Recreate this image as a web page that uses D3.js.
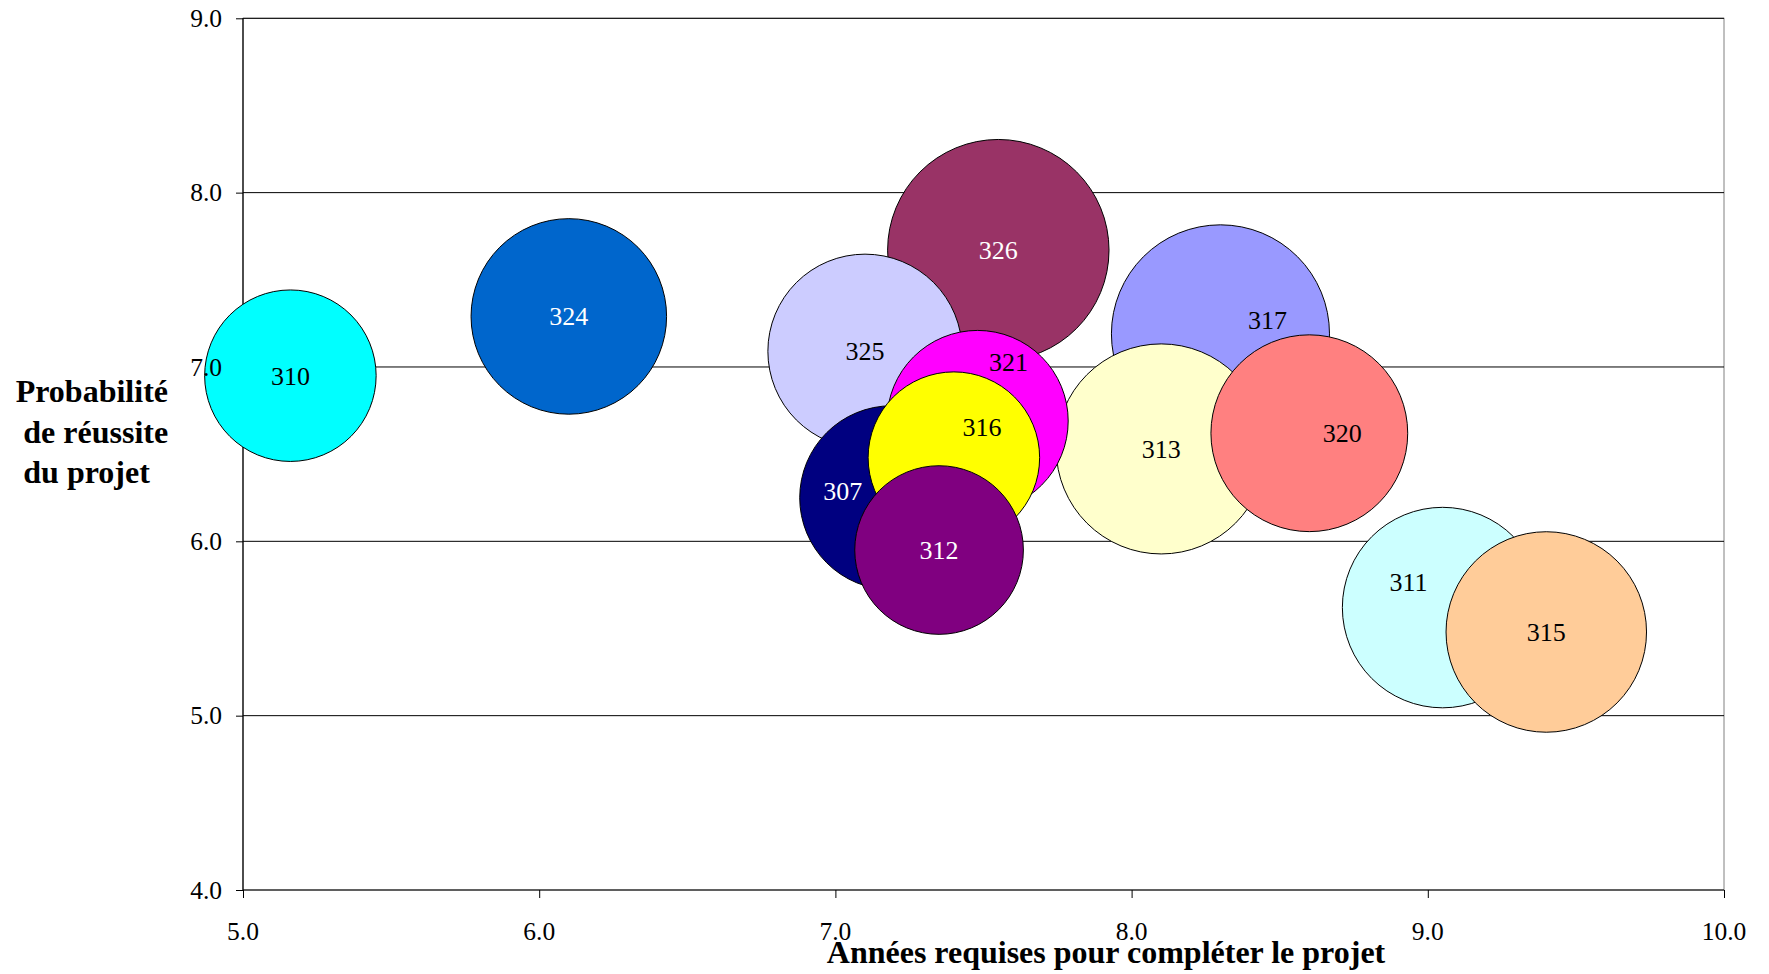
<!DOCTYPE html>
<html lang="fr">
<head>
<meta charset="utf-8">
<title>Projets : probabilité de réussite et durée</title>
<script src="https://cdn.jsdelivr.net/npm/d3@7/dist/d3.min.js"></script>
<style>
  html, body { margin: 0; padding: 0; background: #ffffff; }
  svg { display: block; }
  text { font-family: "Liberation Serif", "Times New Roman", serif; }
</style>
</head>
<body>
<svg id="chart" width="1769" height="974"></svg>
<script>
// Projects: duration (years), probability of success, bubble size
const projects    = ["307", "310", "311", "312", "313", "315", "316", "317", "320", "321", "324", "325", "326"];
const years       = [7.19, 5.16, 9.05, 7.35, 8.10, 9.40, 7.40, 8.30, 8.60, 7.48, 6.10, 7.10, 7.55];
const probability = [6.25, 6.95, 5.62, 5.95, 6.53, 5.48, 6.48, 7.19, 6.62, 6.69, 7.29, 7.09, 7.67];
const bubbleSize  = [69, 60, 82, 58, 90, 82, 60, 97, 79, 67, 78, 77, 100];

// Axis ticks
const xTicks = [5, 6, 7, 8, 9, 10];
const yTicks = [4, 5, 6, 7, 8, 9];

// Bubble fills and label ink
const fills = ["#000080", "#00FFFF", "#CCFFFF", "#800080", "#FFFFCC", "#FFCC99",
               "#FFFF00", "#9999FF", "#FF8080", "#FF00FF", "#0066CC", "#CCCCFF", "#993366"];
const labelInk = ["#ffffff", "#000000", "#000000", "#ffffff", "#000000", "#000000",
                  "#000000", "#000000", "#000000", "#000000", "#ffffff", "#000000", "#ffffff"];
// Hand-placed label nudges (px) so overlapping labels stay readable
const labelNudge = [[-49, -7], [0, 0], [-34, -25], [0, 0], [0, 0], [0, 0],
                    [28, -30], [47, -14], [33, 0], [31, -59], [0, 0], [0, 0], [0, 0]];

const svg = d3.select("#chart");
const margin = { left: 243, right: 45, top: 18.3, bottom: 84 };
const W = +svg.attr("width"), H = +svg.attr("height");
const innerW = W - margin.left - margin.right;
const innerH = H - margin.top - margin.bottom;

const x = d3.scaleLinear().domain([5, 10]).range([margin.left, margin.left + innerW]);
const y = d3.scaleLinear().domain([4, 9]).range([margin.top + innerH, margin.top]);
const r = d3.scaleSqrt().domain([0, d3.max(bubbleSize)]).range([0, innerH * 0.127]);

// Plot area frame
svg.append("rect")
  .attr("x", x(5)).attr("y", y(9))
  .attr("width", x(10) - x(5)).attr("height", y(4) - y(9))
  .attr("fill", "#ffffff").attr("stroke", "#808080").attr("stroke-width", 1);

// Horizontal gridlines
svg.append("g")
  .selectAll("line")
  .data(yTicks.filter(t => t > 4))
  .join("line")
  .attr("x1", x(5)).attr("x2", x(10))
  .attr("y1", d => y(d)).attr("y2", d => y(d))
  .attr("stroke", "#000000").attr("stroke-width", 1);

// Axis lines and tick marks
const yAxis = d3.axisLeft(y).tickValues(yTicks).tickSize(7).tickFormat("");
const xAxis = d3.axisBottom(x).tickValues(xTicks).tickSize(8).tickFormat("");
const gy = svg.append("g").attr("transform", `translate(${x(5)},0)`).call(yAxis);
const gx = svg.append("g").attr("transform", `translate(0,${y(4)})`).call(xAxis);
[gy, gx].forEach(g => {
  g.select(".domain").attr("stroke", "#000000").attr("stroke-width", 1.2);
  g.selectAll(".tick line").attr("stroke", "#000000").attr("stroke-width", 1);
});
gx.select(".domain").attr("d", `M${x(5)},0H${x(10)}`);
gy.select(".domain").attr("d", `M0,${y(4)}V${y(9)}`);

// Bubbles, largest first so smaller ones sit on top
const rows = projects.map((p, i) => ({
  id: p, x: years[i], y: probability[i], s: bubbleSize[i],
  fill: fills[i], ink: labelInk[i], nudge: labelNudge[i]
}));
const drawOrder = rows.slice().sort((a, b) => b.s - a.s);

svg.append("g")
  .selectAll("circle")
  .data(drawOrder)
  .join("circle")
  .attr("cx", d => x(d.x))
  .attr("cy", d => y(d.y))
  .attr("r", d => r(d.s))
  .attr("fill", d => d.fill)
  .attr("stroke", "#000000")
  .attr("stroke-width", 1);

svg.append("g")
  .selectAll("text")
  .data(drawOrder)
  .join("text")
  .attr("x", d => x(d.x) + d.nudge[0])
  .attr("y", d => y(d.y) + d.nudge[1])
  .attr("dy", "0.34em")
  .attr("text-anchor", "middle")
  .attr("font-size", 26)
  .attr("fill", d => d.ink)
  .text(d => d.id);

// Tick labels
const fmt = d3.format(".1f");
svg.append("g")
  .selectAll("text")
  .data(yTicks)
  .join("text")
  .attr("x", x(5) - 21)
  .attr("y", d => y(d))
  .attr("dy", "0.34em")
  .attr("text-anchor", "end")
  .attr("font-size", 25.5)
  .attr("fill", "#000000")
  .text(d => fmt(d));

svg.append("g")
  .selectAll("text")
  .data(xTicks)
  .join("text")
  .attr("x", d => x(d))
  .attr("y", y(4) + 50)
  .attr("text-anchor", "middle")
  .attr("font-size", 25.5)
  .attr("fill", "#000000")
  .text(d => fmt(d));

// Axis titles
svg.append("text")
  .attr("x", 1106)
  .attr("y", 963)
  .attr("text-anchor", "middle")
  .attr("font-size", 32)
  .attr("font-weight", "bold")
  .attr("fill", "#000000")
  .text("Années requises pour compléter le projet");

const yTitle = [
  { t: "Probabilité", x: 15.7, y: 402 },
  { t: "de réussite", x: 23.3, y: 442.5 },
  { t: "du projet", x: 23.3, y: 483 }
];
svg.append("g")
  .selectAll("text")
  .data(yTitle)
  .join("text")
  .attr("x", d => d.x)
  .attr("y", d => d.y)
  .attr("font-size", 32)
  .attr("font-weight", "bold")
  .attr("fill", "#000000")
  .text(d => d.t);
</script>
</body>
</html>
